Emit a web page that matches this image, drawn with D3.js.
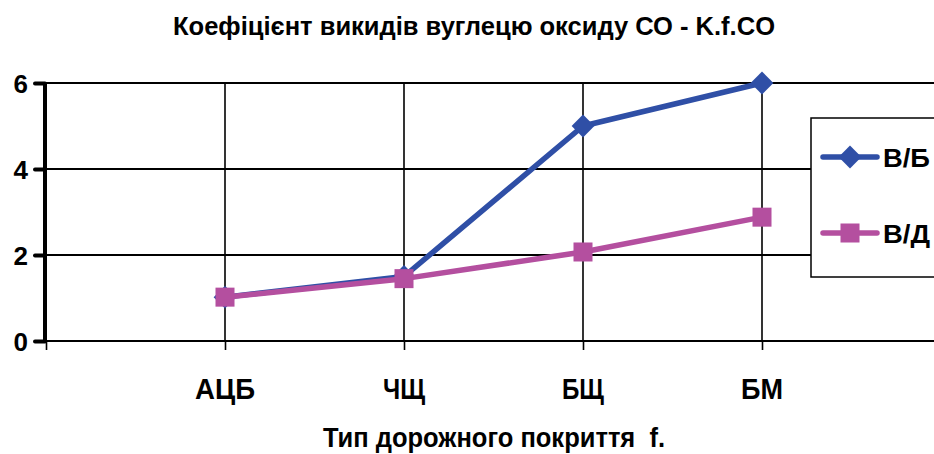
<!DOCTYPE html>
<html>
<head>
<meta charset="utf-8">
<script src="https://cdn.jsdelivr.net/npm/d3@7"></script>
<style>
  html, body { margin: 0; padding: 0; background: #fff; }
  svg text { font-family: "Liberation Sans", Arial, sans-serif; font-weight: bold; fill: #000; white-space: pre; }
</style>
</head>
<body>
<svg id="chart" width="934" height="454"></svg>
<script>
// Road surface types and the CO emission coefficient per fuel type
const categories = ["АЦБ", "ЧЩ", "БЩ", "БМ"];
const seriesVB = [1.02, 1.5, 5.0, 6.0];   // В/Б
const seriesVD = [1.02, 1.45, 2.07, 2.88]; // В/Д
const yTicks = [0, 2, 4, 6];
const titleText = "Коефіцієнт викидів вуглецю оксиду СО - K.f.CO";
const xTitleText = "Тип дорожного покриття  f.";

const svg = d3.select("#chart");
const W = 934, H = 454;

// category index 1..4 sit on the vertical gridlines; 0 is the value axis
const x = d3.scaleLinear().domain([0, 5]).range([46, 941]);
const y = d3.scaleLinear().domain([0, 6]).range([341, 83]);

const blue = "#2f4fa6";
const magenta = "#b44f9f";

// horizontal gridlines
svg.append("g").selectAll("line").data(yTicks.filter(d => d > 0)).join("line")
  .attr("x1", x(0)).attr("x2", W).attr("y1", d => y(d)).attr("y2", d => y(d))
  .attr("stroke", "#000").attr("stroke-width", 2);

// vertical gridlines at each category
svg.append("g").selectAll("line").data(categories).join("line")
  .attr("x1", (d, i) => x(i + 1)).attr("x2", (d, i) => x(i + 1))
  .attr("y1", y(6)).attr("y2", y(0))
  .attr("stroke", "#000").attr("stroke-width", 1.6);

// category axis
const xAxis = svg.append("g").attr("transform", `translate(0,${y(0)})`)
  .call(d3.axisBottom(x).tickValues([0, 1, 2, 3, 4]).tickSize(9).tickFormat(""));
xAxis.select(".domain").attr("d", `M${x(0)},0H${W}`).attr("stroke", "#000").attr("stroke-width", 2);
xAxis.selectAll(".tick line").attr("stroke", "#000").attr("stroke-width", 1.6);

// category labels
svg.append("g").selectAll("text").data(categories).join("text")
  .attr("x", (d, i) => x(i + 1)).attr("y", 399)
  .attr("text-anchor", "middle").attr("font-size", 29)
  .attr("textLength", d => d.length === 3 ? 60 : 42).attr("lengthAdjust", "spacingAndGlyphs")
  .text(d => d);

// value axis
const yAxis = svg.append("g").attr("transform", `translate(${x(0) - 1},0)`)
  .call(d3.axisLeft(y).tickValues(yTicks).tickSize(10).tickPadding(7).tickFormat(d3.format("d")));
yAxis.select(".domain").attr("d", `M0,${y(6)}V${y(0)}`).attr("stroke", "#000").attr("stroke-width", 4);
yAxis.selectAll(".tick line").attr("stroke", "#000").attr("stroke-width", 4).attr("stroke-linecap", "round");
yAxis.selectAll(".tick text")
  .attr("font-size", 26).attr("font-family", "'Liberation Sans', Arial, sans-serif")
  .attr("font-weight", "bold").attr("fill", "#000").attr("dy", "0.36em");

// series lines and markers
const line = d3.line().x((d, i) => x(i + 1)).y(d => y(d));
const diamond = d3.symbol().type(d3.symbolDiamond2).size(330);

svg.append("path").datum(seriesVB).attr("d", line)
  .attr("fill", "none").attr("stroke", blue).attr("stroke-width", 5.5).attr("stroke-linejoin", "round");
svg.append("g").selectAll("path").data(seriesVB).join("path")
  .attr("d", diamond).attr("fill", blue)
  .attr("transform", (d, i) => `translate(${x(i + 1)},${y(d)})`);

const sq = 19;
svg.append("path").datum(seriesVD).attr("d", line)
  .attr("fill", "none").attr("stroke", magenta).attr("stroke-width", 5.5).attr("stroke-linejoin", "round");
svg.append("g").selectAll("rect").data(seriesVD).join("rect")
  .attr("x", (d, i) => x(i + 1) - sq / 2).attr("y", d => y(d) - sq / 2)
  .attr("width", sq).attr("height", sq).attr("fill", magenta);

// legend
const legend = svg.append("g");
legend.append("rect").attr("x", 811).attr("y", 118).attr("width", 140).attr("height", 159)
  .attr("fill", "#fff").attr("stroke", "#000").attr("stroke-width", 1.5);
const legendItems = [
  { name: "В/Б", color: blue, shape: "diamond", cy: 157 },
  { name: "В/Д", color: magenta, shape: "square", cy: 233 }
];
legendItems.forEach(it => {
  legend.append("line").attr("x1", 823).attr("x2", 877).attr("y1", it.cy).attr("y2", it.cy)
    .attr("stroke", it.color).attr("stroke-width", 5.5).attr("stroke-linecap", "round");
  if (it.shape === "diamond") {
    legend.append("path").attr("d", diamond).attr("fill", it.color)
      .attr("transform", `translate(850,${it.cy})`);
  } else {
    legend.append("rect").attr("x", 850 - sq / 2).attr("y", it.cy - sq / 2)
      .attr("width", sq).attr("height", sq).attr("fill", it.color);
  }
  legend.append("text").attr("x", 883).attr("y", it.cy + 10).attr("font-size", 26)
    .attr("textLength", 47).attr("lengthAdjust", "spacingAndGlyphs").text(it.name);
});

// chart title
svg.append("text").attr("x", 474).attr("y", 35).attr("text-anchor", "middle")
  .attr("font-size", 25).attr("textLength", 602).attr("lengthAdjust", "spacingAndGlyphs")
  .text(titleText);

// category axis title
svg.append("text").attr("x", 494).attr("y", 447).attr("text-anchor", "middle")
  .attr("font-size", 27).attr("textLength", 342).attr("lengthAdjust", "spacingAndGlyphs")
  .text(xTitleText);
</script>
</body>
</html>
